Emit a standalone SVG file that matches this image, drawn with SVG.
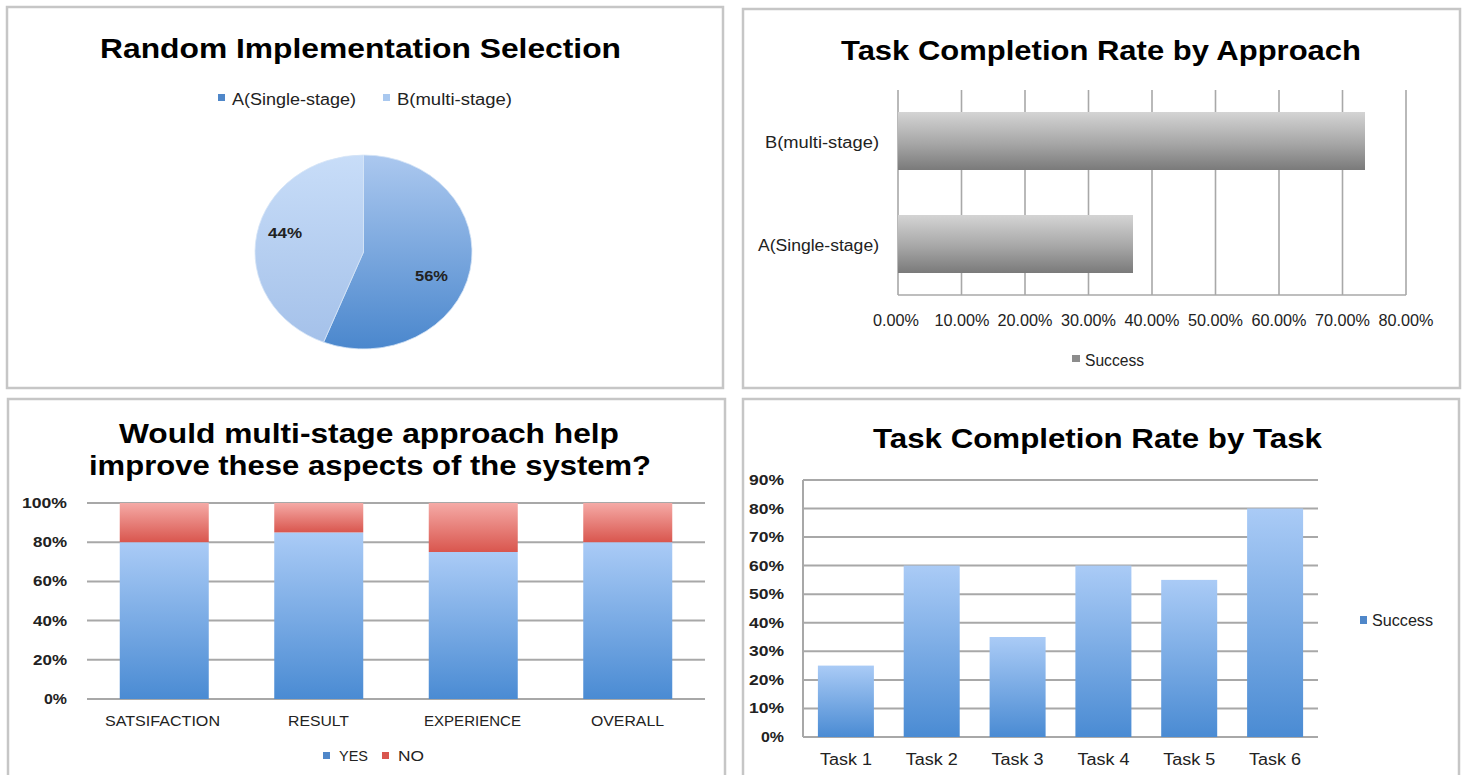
<svg xmlns="http://www.w3.org/2000/svg" width="1465" height="775" viewBox="0 0 1465 775">
<style>
.panel{fill:#fff;stroke:#c6c6c6;stroke-width:2.5}
.title{font-family:"Liberation Sans",Arial,sans-serif;font-weight:bold;font-size:28px;fill:#000}
.lbl{font-family:"Liberation Sans",Arial,sans-serif;font-size:16px;fill:#222}
.num{font-family:"Liberation Sans",Arial,sans-serif;font-size:15px;fill:#222}
.grid{stroke:#a8a8a8;stroke-width:2;fill:none}
.vgrid{stroke:#a8a8a8;stroke-width:1.6;fill:none}
</style>
<defs>
<linearGradient id="pieA" gradientUnits="userSpaceOnUse" x1="0" y1="155" x2="0" y2="349"><stop offset="0" stop-color="#abc8ef"/><stop offset="1" stop-color="#4a87cd"/></linearGradient>
<linearGradient id="pieB" gradientUnits="userSpaceOnUse" x1="0" y1="155" x2="0" y2="349"><stop offset="0" stop-color="#c8ddf8"/><stop offset="1" stop-color="#a3c0e9"/></linearGradient>
<linearGradient id="gray" x1="0" y1="0" x2="0" y2="1"><stop offset="0" stop-color="#d4d4d4"/><stop offset="0.55" stop-color="#a6a6a6"/><stop offset="1" stop-color="#7a7a7a"/></linearGradient>
<linearGradient id="blue" x1="0" y1="0" x2="0" y2="1"><stop offset="0" stop-color="#aacbf6"/><stop offset="1" stop-color="#4a8bd3"/></linearGradient>
<linearGradient id="red" x1="0" y1="0" x2="0" y2="1"><stop offset="0" stop-color="#f5aaa6"/><stop offset="1" stop-color="#d9564e"/></linearGradient>
</defs>
<rect width="1465" height="775" fill="#fff"/>

<g id="panel-pie">
<rect class="panel" x="7" y="7" width="716" height="381"/>
<text class="title" x="100" y="58" textLength="521" lengthAdjust="spacingAndGlyphs">Random Implementation Selection</text>
<rect x="218" y="94" width="7" height="7" fill="#4f87c9"/>
<text class="lbl" x="232" y="105" textLength="124" lengthAdjust="spacingAndGlyphs">A(Single-stage)</text>
<rect x="383" y="94" width="7" height="7" fill="#a9c8ef"/>
<text class="lbl" x="397" y="105" textLength="115" lengthAdjust="spacingAndGlyphs">B(multi-stage)</text>
<path d="M363.5,252 L363.5,155 A108.5,97 0 1 1 323.6,342.2 Z" fill="url(#pieA)" stroke="#d6e4f6" stroke-width="0.8"/>
<path d="M363.5,252 L323.6,342.2 A108.5,97 0 0 1 363.5,155 Z" fill="url(#pieB)" stroke="#d6e4f6" stroke-width="0.8"/>
<text class="num" x="268" y="238" font-weight="bold" fill="#1f2a40" textLength="34" lengthAdjust="spacingAndGlyphs">44%</text>
<text class="num" x="415" y="281" font-weight="bold" fill="#1f2a40" textLength="33" lengthAdjust="spacingAndGlyphs">56%</text>
</g>

<g id="panel-approach">
<rect class="panel" x="743" y="9" width="717" height="379"/>
<text class="title" x="841" y="60" textLength="520" lengthAdjust="spacingAndGlyphs">Task Completion Rate by Approach</text>
<g id="approach-grid">
<line class="vgrid" x1="898" y1="90" x2="898" y2="295"/>
<line class="vgrid" x1="961.5" y1="90" x2="961.5" y2="295"/>
<line class="vgrid" x1="1025" y1="90" x2="1025" y2="295"/>
<line class="vgrid" x1="1088.5" y1="90" x2="1088.5" y2="295"/>
<line class="vgrid" x1="1152" y1="90" x2="1152" y2="295"/>
<line class="vgrid" x1="1215.5" y1="90" x2="1215.5" y2="295"/>
<line class="vgrid" x1="1279" y1="90" x2="1279" y2="295"/>
<line class="vgrid" x1="1342.5" y1="90" x2="1342.5" y2="295"/>
<line class="vgrid" x1="1406" y1="90" x2="1406" y2="295"/>
<line class="vgrid" x1="898" y1="295" x2="1406" y2="295"/>
</g>
<rect x="898" y="112" width="467" height="58" fill="url(#gray)"/>
<rect x="898" y="215" width="235" height="58" fill="url(#gray)"/>
<text class="lbl" x="765" y="148" textLength="114" lengthAdjust="spacingAndGlyphs">B(multi-stage)</text>
<text class="lbl" x="758" y="251" textLength="121" lengthAdjust="spacingAndGlyphs">A(Single-stage)</text>
<g class="lbl" text-anchor="middle">
<text x="896" y="326" textLength="46" lengthAdjust="spacingAndGlyphs">0.00%</text>
<text x="962" y="326" textLength="55" lengthAdjust="spacingAndGlyphs">10.00%</text>
<text x="1025" y="326" textLength="55" lengthAdjust="spacingAndGlyphs">20.00%</text>
<text x="1088.5" y="326" textLength="55" lengthAdjust="spacingAndGlyphs">30.00%</text>
<text x="1152" y="326" textLength="55" lengthAdjust="spacingAndGlyphs">40.00%</text>
<text x="1215.5" y="326" textLength="55" lengthAdjust="spacingAndGlyphs">50.00%</text>
<text x="1279" y="326" textLength="55" lengthAdjust="spacingAndGlyphs">60.00%</text>
<text x="1342.5" y="326" textLength="55" lengthAdjust="spacingAndGlyphs">70.00%</text>
<text x="1406" y="326" textLength="55" lengthAdjust="spacingAndGlyphs">80.00%</text>
</g>
<rect x="1072" y="355" width="8" height="7" fill="#8c8c8c"/>
<text class="lbl" x="1085" y="366" textLength="59" lengthAdjust="spacingAndGlyphs">Success</text>
</g>

<g id="panel-aspects">
<rect class="panel" x="8" y="399" width="717" height="380"/>
<text class="title" x="119" y="443" font-size="27" textLength="500" lengthAdjust="spacingAndGlyphs">Would multi-stage approach help</text>
<text class="title" x="89" y="475" font-size="27" textLength="562" lengthAdjust="spacingAndGlyphs">improve these aspects of the system?</text>
<g id="aspects-grid">
<line class="grid" x1="87" y1="503" x2="705" y2="503"/>
<line class="grid" x1="87" y1="542.2" x2="705" y2="542.2"/>
<line class="grid" x1="87" y1="581.4" x2="705" y2="581.4"/>
<line class="grid" x1="87" y1="620.6" x2="705" y2="620.6"/>
<line class="grid" x1="87" y1="659.8" x2="705" y2="659.8"/>
<line class="grid" x1="87" y1="699" x2="705" y2="699"/>
</g>
<g class="num" font-weight="bold" text-anchor="end">
<text x="67" y="508" textLength="45" lengthAdjust="spacingAndGlyphs">100%</text>
<text x="67" y="547" textLength="34" lengthAdjust="spacingAndGlyphs">80%</text>
<text x="67" y="586" textLength="34" lengthAdjust="spacingAndGlyphs">60%</text>
<text x="67" y="626" textLength="34" lengthAdjust="spacingAndGlyphs">40%</text>
<text x="67" y="665" textLength="34" lengthAdjust="spacingAndGlyphs">20%</text>
<text x="67" y="704" textLength="23" lengthAdjust="spacingAndGlyphs">0%</text>
</g>
<rect x="119.75" y="542.2" width="89" height="156.8" fill="url(#blue)"/>
<rect x="119.75" y="503" width="89" height="39.2" fill="url(#red)"/>
<rect x="274.25" y="532.4" width="89" height="166.6" fill="url(#blue)"/>
<rect x="274.25" y="503" width="89" height="29.4" fill="url(#red)"/>
<rect x="428.75" y="552" width="89" height="147" fill="url(#blue)"/>
<rect x="428.75" y="503" width="89" height="49" fill="url(#red)"/>
<rect x="583.25" y="542.2" width="89" height="156.8" fill="url(#blue)"/>
<rect x="583.25" y="503" width="89" height="39.2" fill="url(#red)"/>
<g class="num" text-anchor="middle">
<text x="162.5" y="726" textLength="115" lengthAdjust="spacingAndGlyphs">SATSIFACTION</text>
<text x="318.5" y="726" textLength="61" lengthAdjust="spacingAndGlyphs">RESULT</text>
<text x="472.5" y="726" textLength="97" lengthAdjust="spacingAndGlyphs">EXPERIENCE</text>
<text x="627.5" y="726" textLength="73" lengthAdjust="spacingAndGlyphs">OVERALL</text>
</g>
<rect x="323" y="752" width="7" height="7" fill="#4f87c9"/>
<text class="num" x="339" y="761" textLength="29" lengthAdjust="spacingAndGlyphs">YES</text>
<rect x="382" y="752" width="7" height="7" fill="#d9564e"/>
<text class="num" x="398" y="761" textLength="26" lengthAdjust="spacingAndGlyphs">NO</text>
</g>

<g id="panel-task">
<rect class="panel" x="743" y="399" width="716" height="380"/>
<text class="title" x="873" y="448" textLength="449" lengthAdjust="spacingAndGlyphs">Task Completion Rate by Task</text>
<g id="task-grid">
<line class="grid" x1="803" y1="480" x2="1318" y2="480"/>
<line class="grid" x1="803" y1="508.5" x2="1318" y2="508.5"/>
<line class="grid" x1="803" y1="537.1" x2="1318" y2="537.1"/>
<line class="grid" x1="803" y1="565.6" x2="1318" y2="565.6"/>
<line class="grid" x1="803" y1="594.2" x2="1318" y2="594.2"/>
<line class="grid" x1="803" y1="622.8" x2="1318" y2="622.8"/>
<line class="grid" x1="803" y1="651.3" x2="1318" y2="651.3"/>
<line class="grid" x1="803" y1="679.9" x2="1318" y2="679.9"/>
<line class="grid" x1="803" y1="708.4" x2="1318" y2="708.4"/>
<line class="grid" x1="803" y1="737" x2="1318" y2="737"/>
<line class="grid" x1="803" y1="480" x2="803" y2="737"/>
</g>
<g class="num" font-weight="bold" text-anchor="end">
<text x="784" y="485" textLength="35" lengthAdjust="spacingAndGlyphs">90%</text>
<text x="784" y="513.5" textLength="35" lengthAdjust="spacingAndGlyphs">80%</text>
<text x="784" y="542" textLength="35" lengthAdjust="spacingAndGlyphs">70%</text>
<text x="784" y="570.6" textLength="35" lengthAdjust="spacingAndGlyphs">60%</text>
<text x="784" y="599.2" textLength="35" lengthAdjust="spacingAndGlyphs">50%</text>
<text x="784" y="627.8" textLength="35" lengthAdjust="spacingAndGlyphs">40%</text>
<text x="784" y="656.3" textLength="35" lengthAdjust="spacingAndGlyphs">30%</text>
<text x="784" y="684.9" textLength="35" lengthAdjust="spacingAndGlyphs">20%</text>
<text x="784" y="713.4" textLength="35" lengthAdjust="spacingAndGlyphs">10%</text>
<text x="784" y="742" textLength="23" lengthAdjust="spacingAndGlyphs">0%</text>
</g>
<rect x="817.9" y="665.6" width="56" height="71.4" fill="url(#blue)"/>
<rect x="903.7" y="565.6" width="56" height="171.4" fill="url(#blue)"/>
<rect x="989.6" y="637" width="56" height="100" fill="url(#blue)"/>
<rect x="1075.4" y="565.6" width="56" height="171.4" fill="url(#blue)"/>
<rect x="1161.2" y="579.9" width="56" height="157.1" fill="url(#blue)"/>
<rect x="1247.1" y="508.5" width="56" height="228.5" fill="url(#blue)"/>
<g class="lbl" text-anchor="middle">
<text x="845.9" y="765" textLength="52" lengthAdjust="spacingAndGlyphs">Task 1</text>
<text x="931.7" y="765" textLength="52" lengthAdjust="spacingAndGlyphs">Task 2</text>
<text x="1017.6" y="765" textLength="52" lengthAdjust="spacingAndGlyphs">Task 3</text>
<text x="1103.4" y="765" textLength="52" lengthAdjust="spacingAndGlyphs">Task 4</text>
<text x="1189.2" y="765" textLength="52" lengthAdjust="spacingAndGlyphs">Task 5</text>
<text x="1275.1" y="765" textLength="52" lengthAdjust="spacingAndGlyphs">Task 6</text>
</g>
<rect x="1360" y="616" width="7" height="8" fill="#4f87c9"/>
<text class="lbl" x="1372" y="626" textLength="61" lengthAdjust="spacingAndGlyphs">Success</text>
</g>
</svg>
